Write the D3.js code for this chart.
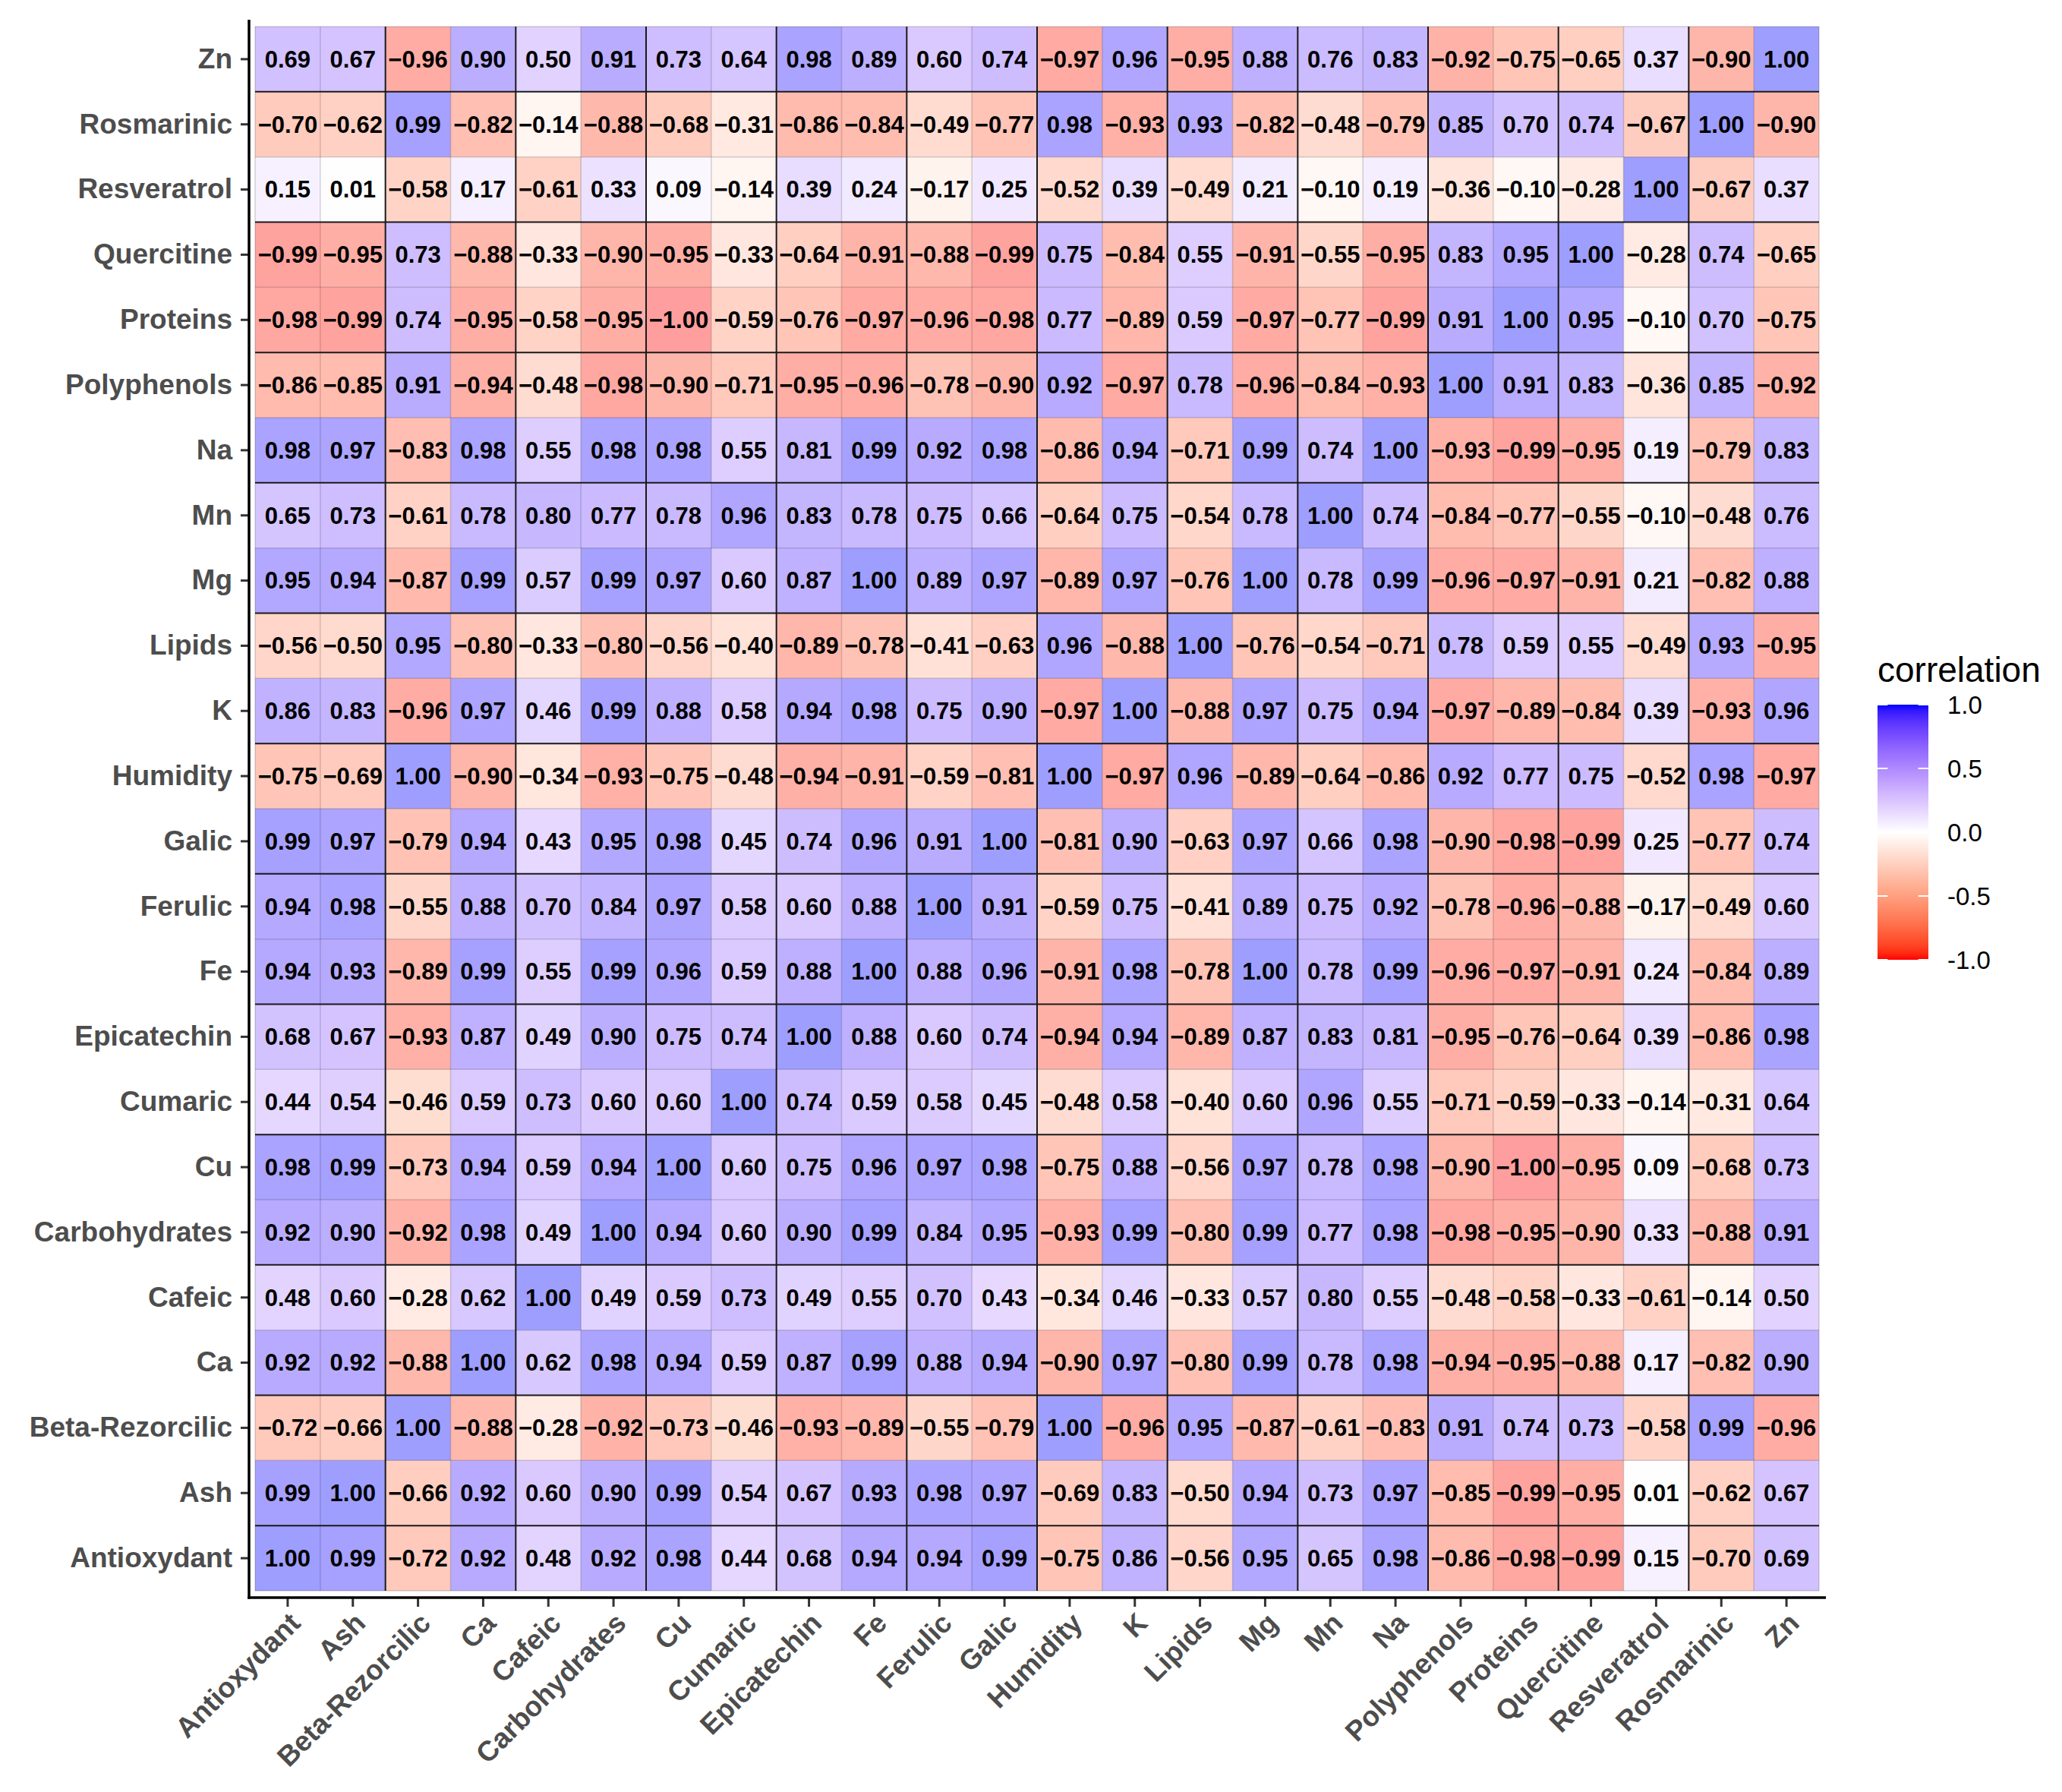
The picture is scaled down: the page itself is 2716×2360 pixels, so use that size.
<!DOCTYPE html>
<html>
<head>
<meta charset="utf-8">
<script src="https://cdn.jsdelivr.net/npm/d3@7"></script>
<style>
  html, body { margin: 0; padding: 0; background: #fff; }
  svg { display: block; font-family: "Liberation Sans", Arial, sans-serif; }
</style>
</head>
<body>
<svg id="svg" width="2716" height="2360"></svg>
<script>
'use strict';

// variables, in column order (left to right); rows run bottom to top
const vars = ['Antioxydant', 'Ash', 'Beta-Rezorcilic', 'Ca', 'Cafeic', 'Carbohydrates',
  'Cu', 'Cumaric', 'Epicatechin', 'Fe', 'Ferulic', 'Galic', 'Humidity', 'K', 'Lipids',
  'Mg', 'Mn', 'Na', 'Polyphenols', 'Proteins', 'Quercitine', 'Resveratrol', 'Rosmarinic', 'Zn'];

// one row of the matrix per variable, values in the same column order
const antioxydant = [1.00, 0.99, -0.72, 0.92, 0.48, 0.92, 0.98, 0.44, 0.68, 0.94, 0.94, 0.99, -0.75, 0.86, -0.56, 0.95, 0.65, 0.98, -0.86, -0.98, -0.99, 0.15, -0.70, 0.69];
const ash = [0.99, 1.00, -0.66, 0.92, 0.60, 0.90, 0.99, 0.54, 0.67, 0.93, 0.98, 0.97, -0.69, 0.83, -0.50, 0.94, 0.73, 0.97, -0.85, -0.99, -0.95, 0.01, -0.62, 0.67];
const betaRezorcilic = [-0.72, -0.66, 1.00, -0.88, -0.28, -0.92, -0.73, -0.46, -0.93, -0.89, -0.55, -0.79, 1.00, -0.96, 0.95, -0.87, -0.61, -0.83, 0.91, 0.74, 0.73, -0.58, 0.99, -0.96];
const ca = [0.92, 0.92, -0.88, 1.00, 0.62, 0.98, 0.94, 0.59, 0.87, 0.99, 0.88, 0.94, -0.90, 0.97, -0.80, 0.99, 0.78, 0.98, -0.94, -0.95, -0.88, 0.17, -0.82, 0.90];
const cafeic = [0.48, 0.60, -0.28, 0.62, 1.00, 0.49, 0.59, 0.73, 0.49, 0.55, 0.70, 0.43, -0.34, 0.46, -0.33, 0.57, 0.80, 0.55, -0.48, -0.58, -0.33, -0.61, -0.14, 0.50];
const carbohydrates = [0.92, 0.90, -0.92, 0.98, 0.49, 1.00, 0.94, 0.60, 0.90, 0.99, 0.84, 0.95, -0.93, 0.99, -0.80, 0.99, 0.77, 0.98, -0.98, -0.95, -0.90, 0.33, -0.88, 0.91];
const cu = [0.98, 0.99, -0.73, 0.94, 0.59, 0.94, 1.00, 0.60, 0.75, 0.96, 0.97, 0.98, -0.75, 0.88, -0.56, 0.97, 0.78, 0.98, -0.90, -1.00, -0.95, 0.09, -0.68, 0.73];
const cumaric = [0.44, 0.54, -0.46, 0.59, 0.73, 0.60, 0.60, 1.00, 0.74, 0.59, 0.58, 0.45, -0.48, 0.58, -0.40, 0.60, 0.96, 0.55, -0.71, -0.59, -0.33, -0.14, -0.31, 0.64];
const epicatechin = [0.68, 0.67, -0.93, 0.87, 0.49, 0.90, 0.75, 0.74, 1.00, 0.88, 0.60, 0.74, -0.94, 0.94, -0.89, 0.87, 0.83, 0.81, -0.95, -0.76, -0.64, 0.39, -0.86, 0.98];
const fe = [0.94, 0.93, -0.89, 0.99, 0.55, 0.99, 0.96, 0.59, 0.88, 1.00, 0.88, 0.96, -0.91, 0.98, -0.78, 1.00, 0.78, 0.99, -0.96, -0.97, -0.91, 0.24, -0.84, 0.89];
const ferulic = [0.94, 0.98, -0.55, 0.88, 0.70, 0.84, 0.97, 0.58, 0.60, 0.88, 1.00, 0.91, -0.59, 0.75, -0.41, 0.89, 0.75, 0.92, -0.78, -0.96, -0.88, -0.17, -0.49, 0.60];
const galic = [0.99, 0.97, -0.79, 0.94, 0.43, 0.95, 0.98, 0.45, 0.74, 0.96, 0.91, 1.00, -0.81, 0.90, -0.63, 0.97, 0.66, 0.98, -0.90, -0.98, -0.99, 0.25, -0.77, 0.74];
const humidity = [-0.75, -0.69, 1.00, -0.90, -0.34, -0.93, -0.75, -0.48, -0.94, -0.91, -0.59, -0.81, 1.00, -0.97, 0.96, -0.89, -0.64, -0.86, 0.92, 0.77, 0.75, -0.52, 0.98, -0.97];
const k = [0.86, 0.83, -0.96, 0.97, 0.46, 0.99, 0.88, 0.58, 0.94, 0.98, 0.75, 0.90, -0.97, 1.00, -0.88, 0.97, 0.75, 0.94, -0.97, -0.89, -0.84, 0.39, -0.93, 0.96];
const lipids = [-0.56, -0.50, 0.95, -0.80, -0.33, -0.80, -0.56, -0.40, -0.89, -0.78, -0.41, -0.63, 0.96, -0.88, 1.00, -0.76, -0.54, -0.71, 0.78, 0.59, 0.55, -0.49, 0.93, -0.95];
const mg = [0.95, 0.94, -0.87, 0.99, 0.57, 0.99, 0.97, 0.60, 0.87, 1.00, 0.89, 0.97, -0.89, 0.97, -0.76, 1.00, 0.78, 0.99, -0.96, -0.97, -0.91, 0.21, -0.82, 0.88];
const mn = [0.65, 0.73, -0.61, 0.78, 0.80, 0.77, 0.78, 0.96, 0.83, 0.78, 0.75, 0.66, -0.64, 0.75, -0.54, 0.78, 1.00, 0.74, -0.84, -0.77, -0.55, -0.10, -0.48, 0.76];
const na = [0.98, 0.97, -0.83, 0.98, 0.55, 0.98, 0.98, 0.55, 0.81, 0.99, 0.92, 0.98, -0.86, 0.94, -0.71, 0.99, 0.74, 1.00, -0.93, -0.99, -0.95, 0.19, -0.79, 0.83];
const polyphenols = [-0.86, -0.85, 0.91, -0.94, -0.48, -0.98, -0.90, -0.71, -0.95, -0.96, -0.78, -0.90, 0.92, -0.97, 0.78, -0.96, -0.84, -0.93, 1.00, 0.91, 0.83, -0.36, 0.85, -0.92];
const proteins = [-0.98, -0.99, 0.74, -0.95, -0.58, -0.95, -1.00, -0.59, -0.76, -0.97, -0.96, -0.98, 0.77, -0.89, 0.59, -0.97, -0.77, -0.99, 0.91, 1.00, 0.95, -0.10, 0.70, -0.75];
const quercitine = [-0.99, -0.95, 0.73, -0.88, -0.33, -0.90, -0.95, -0.33, -0.64, -0.91, -0.88, -0.99, 0.75, -0.84, 0.55, -0.91, -0.55, -0.95, 0.83, 0.95, 1.00, -0.28, 0.74, -0.65];
const resveratrol = [0.15, 0.01, -0.58, 0.17, -0.61, 0.33, 0.09, -0.14, 0.39, 0.24, -0.17, 0.25, -0.52, 0.39, -0.49, 0.21, -0.10, 0.19, -0.36, -0.10, -0.28, 1.00, -0.67, 0.37];
const rosmarinic = [-0.70, -0.62, 0.99, -0.82, -0.14, -0.88, -0.68, -0.31, -0.86, -0.84, -0.49, -0.77, 0.98, -0.93, 0.93, -0.82, -0.48, -0.79, 0.85, 0.70, 0.74, -0.67, 1.00, -0.90];
const zn = [0.69, 0.67, -0.96, 0.90, 0.50, 0.91, 0.73, 0.64, 0.98, 0.89, 0.60, 0.74, -0.97, 0.96, -0.95, 0.88, 0.76, 0.83, -0.92, -0.75, -0.65, 0.37, -0.90, 1.00];

const rows = [antioxydant, ash, betaRezorcilic, ca, cafeic, carbohydrates, cu, cumaric,
  epicatechin, fe, ferulic, galic, humidity, k, lipids, mg, mn, na, polyphenols,
  proteins, quercitine, resveratrol, rosmarinic, zn];

const legendTicks = [-1, -0.5, 0, 0.5, 1];

// panel geometry
const cellLeft = 336, cellRight = 2396, cellTop = 35, cellBottom = 2095;
const axisX = 328, axisY = 2104, panelTop = 26, panelRight = 2405;
const TILE_ALPHA = 0.38;

const svg = d3.select('#svg');

const x = d3.scaleBand().domain(vars).range([cellLeft, cellRight]);
const y = d3.scaleBand().domain(vars.slice().reverse()).range([cellTop, cellBottom]);

// red - white - blue, interpolated in Lab like ggplot's gradient2
const toBlue = d3.interpolateLab('#ffffff', '#0000ff');
const toRed = d3.interpolateLab('#ffffff', '#ff0000');
const fill = v => (v >= 0 ? toBlue(v) : toRed(-v));

const cells = [];
rows.forEach((vals, r) => {
  vals.forEach((v, c) => cells.push({ row: vars[r], col: vars[c], v }));
});

// tiles
svg.append('g')
  .selectAll('rect')
  .data(cells)
  .join('rect')
  .attr('x', d => x(d.col))
  .attr('y', d => y(d.row))
  .attr('width', x.bandwidth())
  .attr('height', y.bandwidth())
  .attr('fill', d => fill(d.v))
  .attr('fill-opacity', TILE_ALPHA);

// cell borders: faint everywhere, darker on every other line
const grid = svg.append('g');
d3.range(vars.length + 1).forEach(i => {
  const gx = cellLeft + i * x.step();
  const inner = i > 0 && i < vars.length;
  grid.append('line')
    .attr('x1', gx).attr('x2', gx).attr('y1', cellTop).attr('y2', cellBottom)
    .attr('stroke', inner && i % 2 === 0 ? '#1a1a1a' : 'rgba(0,0,0,0.16)')
    .attr('stroke-width', inner && i % 2 === 0 ? 2 : 1.5);
  const gy = cellTop + i * y.step();
  grid.append('line')
    .attr('x1', cellLeft).attr('x2', cellRight).attr('y1', gy).attr('y2', gy)
    .attr('stroke', inner && i % 2 === 1 ? '#1a1a1a' : 'rgba(0,0,0,0.16)')
    .attr('stroke-width', inner && i % 2 === 1 ? 2 : 1.5);
});

// values
const fmt = d3.format('.2f');
svg.append('g')
  .selectAll('text')
  .data(cells)
  .join('text')
  .attr('x', d => x(d.col) + x.bandwidth() / 2)
  .attr('y', d => y(d.row) + y.bandwidth() / 2)
  .attr('dy', '0.35em')
  .attr('text-anchor', 'middle')
  .attr('font-size', 31)
  .attr('font-weight', 'bold')
  .attr('fill', '#000')
  .text(d => fmt(d.v));

// axes
const yAxis = svg.append('g')
  .attr('transform', `translate(${axisX},0)`)
  .call(d3.axisLeft(y).tickSize(11).tickPadding(11));
yAxis.select('.domain').remove();
yAxis.selectAll('.tick line').attr('stroke', '#333').attr('stroke-width', 3);
yAxis.selectAll('.tick text')
  .attr('font-size', 37)
  .attr('font-weight', 'bold')
  .attr('fill', '#4d4d4d')
  .attr('font-family', '"Liberation Sans", Arial, sans-serif');

const xAxis = svg.append('g')
  .attr('transform', `translate(0,${axisY})`)
  .call(d3.axisBottom(x).tickSize(12));
xAxis.select('.domain').remove();
xAxis.selectAll('.tick line').attr('stroke', '#333').attr('stroke-width', 3);
// top-right corner of each rotated label sits just under its tick
xAxis.selectAll('.tick text')
  .attr('y', null)
  .attr('dy', '0.72em')
  .attr('transform', 'translate(0,17) rotate(-45)')
  .attr('text-anchor', 'end')
  .attr('font-size', 37)
  .attr('font-weight', 'bold')
  .attr('fill', '#4d4d4d')
  .attr('font-family', '"Liberation Sans", Arial, sans-serif');

svg.append('line')
  .attr('x1', axisX).attr('x2', axisX).attr('y1', panelTop).attr('y2', axisY + 1.75)
  .attr('stroke', '#000').attr('stroke-width', 3.5);
svg.append('line')
  .attr('x1', axisX - 1.75).attr('x2', panelRight).attr('y1', axisY).attr('y2', axisY)
  .attr('stroke', '#000').attr('stroke-width', 3.5);

// legend
const legX = 2473, legW = 67, legTop = 928, legBottom = 1264;
const legScale = d3.scaleLinear().domain([-1, 1]).range([legBottom, legTop]);

const grad = svg.append('defs').append('linearGradient')
  .attr('id', 'corrGrad')
  .attr('x1', 0).attr('x2', 0).attr('y1', 1).attr('y2', 0);
d3.range(0, 41).forEach(i => {
  const v = -1 + i / 20;
  grad.append('stop').attr('offset', i / 40).attr('stop-color', fill(v));
});

const legend = svg.append('g');
legend.append('text')
  .attr('x', legX)
  .attr('y', 898)
  .attr('font-size', 46)
  .attr('fill', '#000')
  .text('correlation');
legend.append('rect')
  .attr('x', legX).attr('y', legTop)
  .attr('width', legW).attr('height', legBottom - legTop)
  .attr('fill', 'url(#corrGrad)');

const hyphenFmt = d3.formatLocale({ decimal: '.', thousands: ',', grouping: [3], currency: ['', ''], minus: '-' }).format('.1f');
legendTicks.forEach(t => {
  const ty = legScale(t);
  [[legX, legX + legW / 5], [legX + legW * 4 / 5, legX + legW]].forEach(([a, b]) => {
    legend.append('line')
      .attr('x1', a).attr('x2', b).attr('y1', ty).attr('y2', ty)
      .attr('stroke', '#fff').attr('stroke-width', 2);
  });
  legend.append('text')
    .attr('x', 2565)
    .attr('y', ty)
    .attr('dy', '0.35em')
    .attr('font-size', 33)
    .attr('fill', '#000')
    .text(hyphenFmt(t));
});
</script>
</body>
</html>
